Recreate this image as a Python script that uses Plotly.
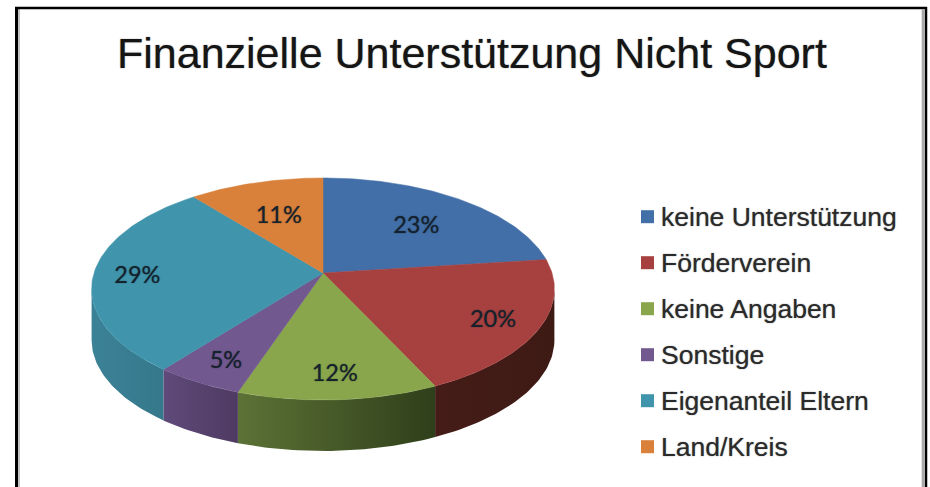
import math
import plotly.graph_objects as go

TITLE = "Finanzielle Unterstützung Nicht Sport"
categories = ["keine Unterstützung", "Förderverein", "keine Angaben", "Sonstige", "Eigenanteil Eltern", "Land/Kreis"]
values = [23.0, 20.0, 12.2, 5.4, 28.6, 10.8]
top_colors = ["#426FA7", "#A64140", "#89A64C", "#71588F", "#4095AD", "#D9813B"]
wall_left = ["#2F4F78", "#451C17", "#5C7236", "#5F4A7A", "#3C8297", "#9A5B28"]
wall_right = ["#2F4F78", "#3E1A15", "#2F3F1A", "#4E3A62", "#35788C", "#9A5B28"]
label_radius = [0.66, 0.80, 0.80, 0.80, 0.81, 0.63]

CX, CY = 323.0, 273.0
B, A, K = 229.0, 108.7, 0.144
DEPTH = 51.0
LABEL_DY = 4.0
BLUR = "0 0 1.2px rgba(0,0,0,0.55)"


def project(t, r=1.0):
    x, y = r * math.sin(t), r * math.cos(t)
    w = 1 + K * y
    return CX + B * x / w, CY - A * y / w


total = sum(values)
edges = [0.0]
for v in values:
    edges.append(edges[-1] + v / total * 2 * math.pi)


def arc(a, b):
    n = max(2, int((b - a) / math.radians(1)))
    return [a + (b - a) * i / n for i in range(n + 1)]


fig = go.Figure()

# side walls
for i in range(len(values)):
    ts = [t for t in arc(edges[i], edges[i + 1]) if math.cos(t) <= -K]
    if len(ts) < 2:
        continue
    pts = [project(t) for t in ts]
    xs = [p[0] for p in pts] + [p[0] for p in reversed(pts)] + [pts[0][0]]
    ys = [p[1] for p in pts] + [p[1] + DEPTH for p in reversed(pts)] + [pts[0][1]]
    fig.add_trace(go.Scatter(
        x=xs, y=ys, mode="lines", fill="toself", line=dict(width=0, color=wall_left[i]),
        fillgradient=dict(type="horizontal", colorscale=[[0, wall_left[i]], [1, wall_right[i]]]),
        hoverinfo="skip", showlegend=False))

# top faces
for i, name in enumerate(categories):
    pts = [project(t) for t in arc(edges[i], edges[i + 1])]
    xs = [CX] + [p[0] for p in pts] + [CX]
    ys = [CY] + [p[1] for p in pts] + [CY]
    fig.add_trace(go.Scatter(
        x=xs, y=ys, mode="lines", fill="toself", fillcolor=top_colors[i],
        line=dict(width=0.5, color=top_colors[i]), name=name,
        hoverinfo="name", showlegend=False))

# percent labels
lx, ly, lt = [], [], []
for i, v in enumerate(values):
    px, py = project((edges[i] + edges[i + 1]) / 2, label_radius[i])
    lx.append(px)
    ly.append(py + LABEL_DY)
    lt.append(f"{v / total * 100:.0f}%")
fig.add_trace(go.Scatter(x=lx, y=ly, mode="text", text=lt, textposition="middle center",
                         textfont=dict(family="Lato", size=23.5, color="#14222e", shadow=BLUR),
                         hoverinfo="skip", showlegend=False))

# legend
LEG_X, LEG_Y, LEG_STEP = 647.5, 216.7, 46.0
for i, name in enumerate(categories):
    fig.add_trace(go.Scatter(x=[LEG_X], y=[LEG_Y + i * LEG_STEP], mode="markers",
                             marker=dict(symbol="square", size=13, color=top_colors[i]),
                             hoverinfo="skip", showlegend=False))
    fig.add_annotation(x=LEG_X + 11.5, y=LEG_Y + i * LEG_STEP, text=name, showarrow=False,
                       xanchor="left", yanchor="middle",
                       font=dict(family="Liberation Sans", size=26.5, color="#2a2a2a", shadow=BLUR))

fig.add_annotation(x=472, y=53, text=TITLE, showarrow=False, xanchor="center", yanchor="middle",
                   font=dict(family="Liberation Sans", size=43, color="#151515", shadow=BLUR))

# frame of the chart
frame = [
    dict(x0=16.5, x1=16.5, y0=7, y1=487, c="#000000", w=3),
    dict(x0=19, x1=19, y0=9, y1=487, c="#c4c4c4", w=2),
    dict(x0=15, x1=927, y0=8, y1=8, c="#000000", w=2.5),
    dict(x0=926, x1=926, y0=7, y1=487, c="#000000", w=2.5),
    dict(x0=923.2, x1=923.2, y0=9, y1=487, c="#a8a8a8", w=3),
]
for f in frame:
    fig.add_shape(type="line", x0=f["x0"], x1=f["x1"], y0=f["y0"], y1=f["y1"],
                  line=dict(color=f["c"], width=f["w"]), layer="below")

fig.update_layout(
    width=930, height=487, margin=dict(l=0, r=0, t=0, b=0),
    paper_bgcolor="white", plot_bgcolor="white", showlegend=False,
    xaxis=dict(range=[0, 930], visible=False, fixedrange=True),
    yaxis=dict(range=[487, 0], visible=False, fixedrange=True),
)
fig.write_html("out.html", config={"displayModeBar": False},
               post_script="document.body.style.margin='0';document.body.style.overflow='hidden';")
